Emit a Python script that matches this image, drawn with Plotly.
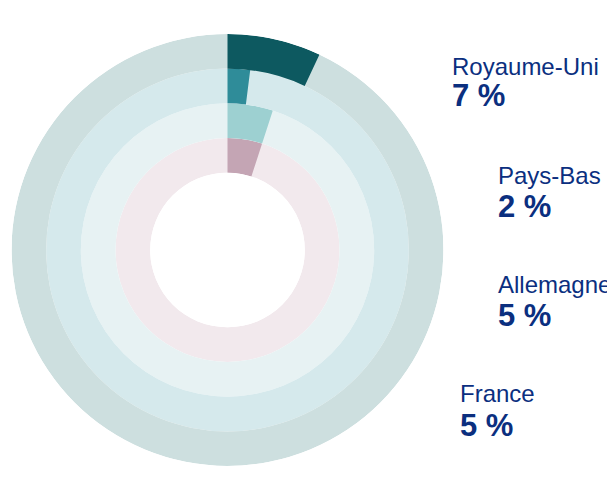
import plotly.graph_objects as go

# Data (inner ring -> outer ring)
countries = ["France", "Allemagne", "Pays-Bas", "Royaume-Uni"]
values = [5, 5, 2, 7]
value_labels = ["5 %", "5 %", "2 %", "7 %"]

bg_colors = ["#f2e9ed", "#e7f2f3", "#d5e9ec", "#cddfdf"]
val_colors = ["#c4a5b4", "#9dd0d1", "#2f8c99", "#0d5960"]

fig = go.Figure()
for i, (c, v) in enumerate(zip(countries, values)):
    fig.add_trace(go.Barpolar(
        r=[1], base=[i], theta=[180], width=[360],
        marker=dict(color=bg_colors[i], line=dict(width=0)),
        hoverinfo="skip", showlegend=False))
    fig.add_trace(go.Barpolar(
        r=[1], base=[i], theta=[v * 3.6 / 2], width=[v * 3.6],
        marker=dict(color=val_colors[i], line=dict(width=0)),
        name=c, showlegend=False))

W, H = 615, 486
OFF = 8  # page body margin
cx, cy, R = 227.5 - OFF, 250 - OFF, 216
fig.update_layout(
    width=W, height=H,
    margin=dict(l=0, r=0, t=0, b=0),
    paper_bgcolor="white",
    polar=dict(
        domain=dict(x=[(cx - R) / W, (cx + R) / W],
                    y=[(H - cy - R) / H, (H - cy + R) / H]),
        hole=77.3 / 216,
        bgcolor="white",
        radialaxis=dict(range=[0, 4], visible=False, showgrid=False),
        angularaxis=dict(visible=False, showgrid=False, direction="clockwise", rotation=90),
        barmode="overlay",
    ),
)

# label positions on screen (pixels): x left, name baseline y, value baseline y
label_pos = [(460, 402.7, 436.7), (497.5, 293.3, 327.3), (498, 184, 218.3), (451.5, 76, 106.7)]
textcolor = "#0b2f7f"
for (x, yb1, yb2), c, vl in zip(label_pos, countries, value_labels):
    xf = x - OFF - 2
    fig.add_annotation(x=xf / W, y=1 - (yb1 + 6.5 - OFF) / H, xref="paper", yref="paper",
                       xanchor="left", yanchor="bottom", showarrow=False,
                       text=c, font=dict(family="Liberation Sans", size=24, color=textcolor))
    fig.add_annotation(x=xf / W, y=1 - (yb2 + 8 - OFF) / H, xref="paper", yref="paper",
                       xanchor="left", yanchor="bottom", showarrow=False,
                       text="<b>" + vl + "</b>", font=dict(family="Liberation Sans", size=31, color=textcolor))

fig.write_html("out.html")
